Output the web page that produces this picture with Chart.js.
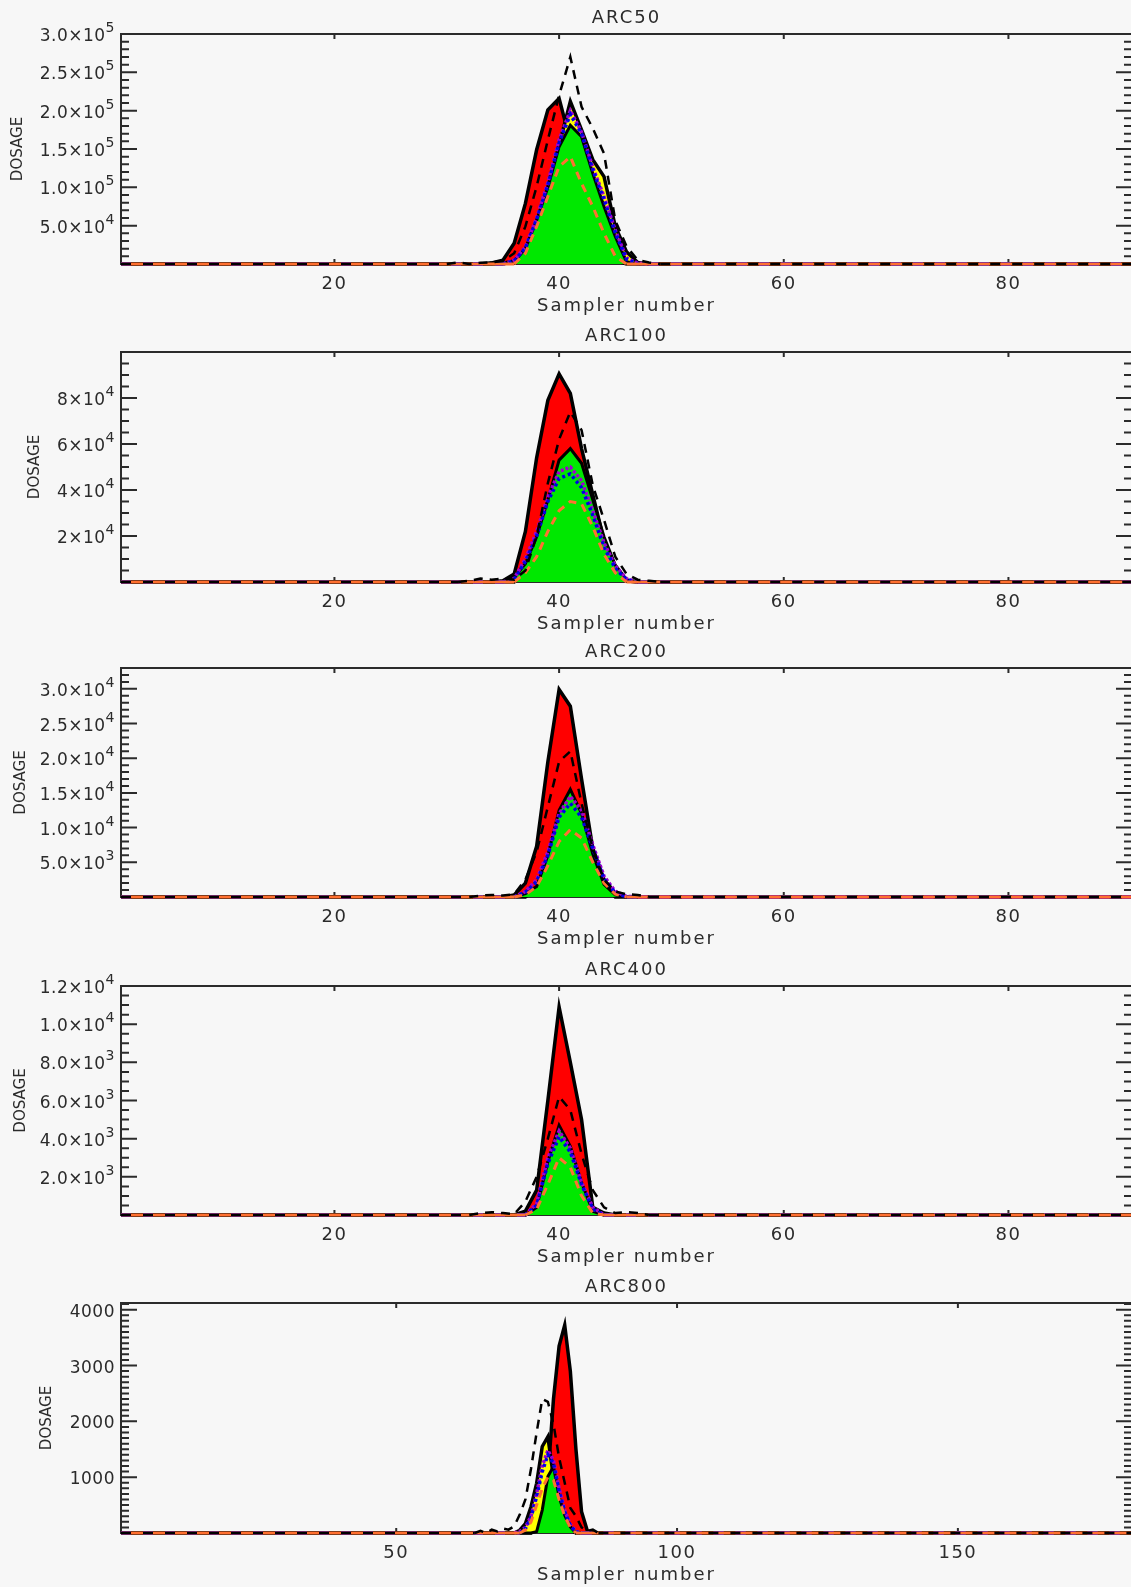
<!DOCTYPE html>
<html>
<head>
<meta charset="utf-8">
<title>ARC dosage by sampler</title>
<script src="https://cdn.jsdelivr.net/npm/chart.js@4.4.0/dist/chart.umd.min.js"></script>
<style>
  html, body { margin: 0; padding: 0; background: #f7f7f7; overflow: hidden; }
  #page { position: relative; width: 1131px; height: 1587px; overflow: hidden; }
  #page canvas { position: absolute; left: 0; }
</style>
</head>
<body>
<div id="page"></div>
<script>
// ---- datos (sampler number -> dosage) ----

// muestreadores para ARC50..ARC400 (misma malla)
var arcX = [1, 30, 31, 32, 33, 34, 35, 36, 37, 38, 39, 40, 41, 42, 43, 44, 45, 46, 47, 48, 49, 50, 91];

var arc50Red    = [0, 0, 0, 0, 0, 1500, 5000, 27000, 79000, 149000, 201000, 216000, 160000, 100000, 50000, 20000, 5000, 0, 0, 0, 0, 0, 0];
var arc50Yellow = [0, 0, 0, 0, 0, 0, 1000, 4000, 18000, 55000, 100000, 155000, 212000, 175000, 136000, 114000, 49000, 16000, 2000, 0, 0, 0, 0];
var arc50Green  = [0, 0, 0, 0, 0, 0, 0, 3000, 20000, 57000, 100000, 153000, 181000, 166000, 118000, 75000, 36000, 3000, 0, 0, 0, 0, 0];
var arc50Purple = [0, 0, 0, 0, 0, 0, 0, 5000, 22000, 60000, 106000, 162000, 200000, 172000, 126000, 88000, 44000, 8000, 1000, 0, 0, 0, 0];
var arc50Blue   = [0, 0, 0, 0, 0, 0, 0, 4000, 21000, 58000, 103000, 158000, 195000, 170000, 123000, 84000, 41000, 6000, 500, 0, 0, 0, 0];
var arc50Orange = [0, 0, 0, 0, 0, 0, 0, 0, 14000, 49000, 88000, 127000, 140000, 105000, 75000, 40000, 10000, 0, 0, 0, 0, 0, 0];
var arc50Black  = [0, 0, 2000, 0, 1500, 2000, 4000, 14000, 49000, 101000, 162000, 220000, 270000, 205000, 177000, 144000, 57000, 23000, 5000, 2000, 0, 0, 0];

var arc100Red    = [0, 0, 0, 0, 0, 0, 500, 3500, 22000, 54000, 79000, 90500, 82000, 58000, 38000, 18000, 5000, 500, 0, 0, 0, 0, 0];
var arc100Yellow = [0, 0, 0, 0, 0, 0, 0, 0, 6000, 17000, 32000, 49000, 55000, 48000, 33000, 17000, 6000, 500, 0, 0, 0, 0, 0];
var arc100Green  = [0, 0, 0, 0, 0, 0, 0, 2000, 8000, 19700, 35700, 53000, 58000, 51600, 35700, 19700, 7400, 1000, 0, 0, 0, 0, 0];
var arc100Purple = [0, 0, 0, 0, 0, 0, 0, 1500, 10000, 22000, 37000, 48000, 50000, 44000, 31000, 17000, 7000, 1500, 0, 0, 0, 0, 0];
var arc100Blue   = [0, 0, 0, 0, 0, 0, 0, 1000, 9000, 20000, 35000, 45000, 47000, 41000, 29000, 15000, 6000, 1000, 0, 0, 0, 0, 0];
var arc100Orange = [0, 0, 0, 0, 0, 0, 0, 0, 4000, 11000, 22000, 31000, 35000, 34000, 24000, 12000, 4000, 0, 0, 0, 0, 0, 0];
var arc100Black  = [0, 0, 0, 500, 1500, 1000, 1500, 1000, 5000, 20000, 43000, 62000, 74000, 66000, 42000, 27000, 11000, 3500, 1000, 500, 0, 0, 0];

var arc200Red    = [0, 0, 0, 0, 0, 0, 0, 300, 2000, 7300, 19500, 29900, 27500, 17000, 7000, 2500, 500, 0, 0, 0, 0, 0, 0];
var arc200Yellow = [0, 0, 0, 0, 0, 0, 0, 0, 0, 1300, 5500, 11500, 14500, 11000, 5500, 1500, 0, 0, 0, 0, 0, 0, 0];
var arc200Green  = [0, 0, 0, 0, 0, 0, 0, 0, 500, 1500, 6000, 12500, 15500, 12000, 6200, 1800, 300, 0, 0, 0, 0, 0, 0];
var arc200Purple = [0, 0, 0, 0, 0, 0, 0, 0, 800, 2500, 6500, 12000, 14500, 12500, 7500, 3000, 800, 100, 0, 0, 0, 0, 0];
var arc200Blue   = [0, 0, 0, 0, 0, 0, 0, 0, 700, 2200, 6000, 11500, 13500, 11500, 7000, 2600, 600, 0, 0, 0, 0, 0, 0];
var arc200Orange = [0, 0, 0, 0, 0, 0, 0, 0, 300, 1500, 4500, 8000, 9700, 8500, 5000, 2000, 400, 0, 0, 0, 0, 0, 0];
var arc200Black  = [0, 0, 0, 0, 200, 300, 200, 400, 2500, 6500, 13000, 19500, 21000, 13500, 7000, 2500, 800, 400, 300, 0, 0, 0, 0];

var arc400Red    = [0, 0, 0, 0, 0, 0, 0, 0, 200, 1300, 6000, 10900, 8000, 5000, 400, 100, 0, 0, 0, 0, 0, 0, 0];
var arc400Yellow = [0, 0, 0, 0, 0, 0, 0, 0, 0, 300, 2500, 4500, 3400, 1500, 200, 0, 0, 0, 0, 0, 0, 0, 0];
var arc400Green  = [0, 0, 0, 0, 0, 0, 0, 0, 0, 400, 2800, 4700, 3600, 1700, 200, 0, 0, 0, 0, 0, 0, 0, 0];
var arc400Purple = [0, 0, 0, 0, 0, 0, 0, 0, 0, 600, 3000, 4400, 3500, 1700, 400, 0, 0, 0, 0, 0, 0, 0, 0];
var arc400Blue   = [0, 0, 0, 0, 0, 0, 0, 0, 0, 500, 2700, 4100, 3300, 1600, 300, 0, 0, 0, 0, 0, 0, 0, 0];
var arc400Orange = [0, 0, 0, 0, 0, 0, 0, 0, 0, 300, 1600, 3000, 2500, 1000, 100, 0, 0, 0, 0, 0, 0, 0, 0];
var arc400Black  = [0, 0, 0, 0, 100, 150, 100, 50, 700, 2000, 4000, 6200, 5500, 3200, 1300, 400, 100, 150, 100, 0, 0, 0, 0];

// ARC800 usa otra malla (1..181)
var arc800X = [1, 64, 65, 66, 67, 68, 69, 70, 71, 72, 73, 74, 75, 76, 77, 78, 79, 80, 81, 82, 83, 84, 85, 86, 87, 88, 181];

var arc800Red    = [0, 0, 0, 0, 0, 0, 0, 0, 0, 0, 0, 0, 100, 400, 1000, 2400, 3350, 3725, 2900, 1500, 380, 50, 0, 0, 0, 0, 0];
var arc800Yellow = [0, 0, 0, 0, 0, 0, 0, 0, 0, 50, 170, 470, 890, 1550, 1725, 1000, 500, 200, 50, 0, 0, 0, 0, 0, 0, 0, 0];
var arc800Green  = [0, 0, 0, 0, 0, 0, 0, 0, 0, 0, 0, 0, 25, 410, 1010, 1190, 650, 320, 110, 0, 0, 0, 0, 0, 0, 0, 0];
var arc800Purple = [0, 0, 0, 0, 0, 0, 0, 0, 0, 30, 100, 300, 700, 1200, 1480, 1300, 800, 400, 150, 30, 0, 0, 0, 0, 0, 0, 0];
var arc800Blue   = [0, 0, 0, 0, 0, 0, 0, 0, 0, 0, 80, 280, 650, 1100, 1400, 1250, 750, 380, 130, 20, 0, 0, 0, 0, 0, 0, 0];
var arc800Orange = [0, 0, 0, 0, 0, 0, 0, 0, 0, 0, 50, 200, 500, 800, 1000, 950, 600, 300, 100, 0, 0, 0, 0, 0, 0, 0, 0];
var arc800Black  = [0, 0, 40, 0, 60, 30, 80, 60, 120, 330, 600, 1150, 1800, 2400, 2350, 1950, 1350, 900, 450, 300, 100, 40, 60, 0, 0, 0, 0];

// ticks
var arcXTicks = [20, 40, 60, 80];
var arc800XTicks = [50, 100, 150];

var arc50YTicks = [50000, 100000, 150000, 200000, 250000, 300000];
var arc50YLabels = ['5.0\u00d710^4', '1.0\u00d710^5', '1.5\u00d710^5', '2.0\u00d710^5', '2.5\u00d710^5', '3.0\u00d710^5'];
var arc100YTicks = [20000, 40000, 60000, 80000];
var arc100YLabels = ['2\u00d710^4', '4\u00d710^4', '6\u00d710^4', '8\u00d710^4'];
var arc200YTicks = [5000, 10000, 15000, 20000, 25000, 30000];
var arc200YLabels = ['5.0\u00d710^3', '1.0\u00d710^4', '1.5\u00d710^4', '2.0\u00d710^4', '2.5\u00d710^4', '3.0\u00d710^4'];
var arc400YTicks = [2000, 4000, 6000, 8000, 10000, 12000];
var arc400YLabels = ['2.0\u00d710^3', '4.0\u00d710^3', '6.0\u00d710^3', '8.0\u00d710^3', '1.0\u00d710^4', '1.2\u00d710^4'];
var arc800YTicks = [1000, 2000, 3000, 4000];
var arc800YLabels = ['1000', '2000', '3000', '4000'];

// ---- layout de cada panel (pixeles de la pagina) ----
var INK = '#2b2b2b';
var FONT = '"DejaVu Sans", sans-serif';

var panels = [
    { title: 'ARC50',  top: 34,   bottom: 264,  xMax: 91,  yMax: 300000, yMinor: 10000, ytitleX: 18,
      x: arcX, xTicks: arcXTicks, yTicks: arc50YTicks, yLabels: arc50YLabels,
      s: [arc50Red, arc50Yellow, arc50Green, arc50Purple, arc50Blue, arc50Orange, arc50Black] },
    { title: 'ARC100', top: 352,  bottom: 582,  xMax: 91,  yMax: 100000, yMinor: 5000, ytitleX: 35.5,
      x: arcX, xTicks: arcXTicks, yTicks: arc100YTicks, yLabels: arc100YLabels,
      s: [arc100Red, arc100Yellow, arc100Green, arc100Purple, arc100Blue, arc100Orange, arc100Black] },
    { title: 'ARC200', top: 668,  bottom: 897,  xMax: 91,  yMax: 33000, yMinor: 1000, ytitleX: 21,
      x: arcX, xTicks: arcXTicks, yTicks: arc200YTicks, yLabels: arc200YLabels,
      s: [arc200Red, arc200Yellow, arc200Green, arc200Purple, arc200Blue, arc200Orange, arc200Black] },
    { title: 'ARC400', top: 986,  bottom: 1215, xMax: 91,  yMax: 12000, yMinor: 500, ytitleX: 21,
      x: arcX, xTicks: arcXTicks, yTicks: arc400YTicks, yLabels: arc400YLabels,
      s: [arc400Red, arc400Yellow, arc400Green, arc400Purple, arc400Blue, arc400Orange, arc400Black] },
    { title: 'ARC800', top: 1303, bottom: 1533, xMax: 181, yMax: 4120, yMinor: 100, ytitleX: 47,
      x: arc800X, xTicks: arc800XTicks, yTicks: arc800YTicks, yLabels: arc800YLabels,
      s: [arc800Red, arc800Yellow, arc800Green, arc800Purple, arc800Blue, arc800Orange, arc800Black] }
];

var PAD_TOP = 34, PAD_BOTTOM = 56, LEFT = 121, CANVAS_W = 1133;

// estilos de cada serie, en orden de dibujo (de abajo hacia arriba)
function flat(c) { return c.p0.parsed.y === 0 && c.p1.parsed.y === 0; }

var styles = [
    { fill: 'origin', backgroundColor: '#ff0000', borderColor: '#000', borderWidth: 3.5 },
    { fill: 'origin', backgroundColor: '#ffff00', borderColor: '#000', borderWidth: 3.5 },
    { fill: 'origin', backgroundColor: '#00e800', borderColor: '#000', borderWidth: 3 },
    { fill: false, borderColor: '#a000d0', borderWidth: 3.5,
      segment: { borderDash: function (c) { return flat(c) ? [10, 12] : [3, 2]; } } },
    { fill: false, borderColor: '#0000e6', borderWidth: 3.5,
      segment: { borderDash: function (c) { return flat(c) ? [10, 12] : [3, 3]; } } },
    { fill: false, borderColor: '#ff7030', borderWidth: 3,
      segment: { borderDash: function (c) { return flat(c) ? [] : [8, 6]; } } },
    { fill: false, borderColor: '#000', borderWidth: 2.5,
      segment: { borderDash: function (c) { return flat(c) ? [10, 12] : [9, 7]; } } }
];

function makeFrame(p) {
    return {
        id: 'idlFrame',
        beforeDatasetsDraw: function (chart) {
            var ctx = chart.ctx, a = chart.chartArea;
            var xs = chart.scales.x, ys = chart.scales.y;
            ctx.save();
            ctx.strokeStyle = INK;
            ctx.lineWidth = 2;
            ctx.strokeRect(a.left, a.top, a.right - a.left, a.bottom - a.top);

            // ticks hacia adentro, estilo IDL
            ctx.beginPath();
            var n = Math.round(ys.max / p.yMinor);
            for (var i = 1; i <= n; i++) {
                var v = i * p.yMinor;
                if (v >= ys.max) break;
                var y = ys.getPixelForValue(v);
                var len = p.yTicks.indexOf(v) >= 0 ? 16 : 8;
                ctx.moveTo(a.left, y); ctx.lineTo(a.left + len, y);
                ctx.moveTo(a.right, y); ctx.lineTo(a.right - len, y);
            }
            p.xTicks.forEach(function (v) {
                var x = xs.getPixelForValue(v);
                ctx.moveTo(x, a.bottom); ctx.lineTo(x, a.bottom - 5);
                ctx.moveTo(x, a.top); ctx.lineTo(x, a.top + 5);
            });
            ctx.stroke();

            ctx.fillStyle = INK;
            var cx = (a.left + a.right) / 2;
            ctx.textAlign = 'center';
            ctx.textBaseline = 'middle';
            ctx.font = '18px ' + FONT;
            ctx.letterSpacing = '2px';
            ctx.fillText(p.title, cx, a.top - 16);
            ctx.fillText('Sampler number', cx, a.bottom + 42);

            ctx.letterSpacing = '1.5px';
            p.xTicks.forEach(function (v) {
                ctx.fillText(String(v), xs.getPixelForValue(v), a.bottom + 20.5);
            });

            // etiquetas del eje y con exponente
            ctx.letterSpacing = '0.5px';
            ctx.textAlign = 'right';
            ctx.textBaseline = 'alphabetic';
            p.yTicks.forEach(function (v, i) {
                var parts = p.yLabels[i].split('^');
                var y = ys.getPixelForValue(v);
                var right = a.left - 6;
                if (parts[1]) {
                    ctx.font = '14px ' + FONT;
                    ctx.fillText(parts[1], right, y - 2);
                    right -= ctx.measureText(parts[1]).width;
                }
                ctx.font = '17px ' + FONT;
                ctx.fillText(parts[0], right, y + 7);
            });

            ctx.save();
            ctx.translate(p.ytitleX, (a.top + a.bottom) / 2);
            ctx.rotate(-Math.PI / 2);
            ctx.letterSpacing = '0px';
            ctx.textAlign = 'center';
            ctx.textBaseline = 'middle';
            ctx.font = '15px ' + FONT;
            ctx.fillText('DOSAGE', 0, 0);
            ctx.restore();

            ctx.restore();
        }
    };
}

function build(p) {
    var canvas = document.createElement('canvas');
    var h = (p.bottom - p.top) + PAD_TOP + PAD_BOTTOM;
    canvas.width = CANVAS_W;
    canvas.height = h;
    canvas.style.width = CANVAS_W + 'px';
    canvas.style.height = h + 'px';
    canvas.style.top = (p.top - PAD_TOP) + 'px';
    document.getElementById('page').appendChild(canvas);

    var datasets = p.s.map(function (vals, k) {
        var ds = {
            data: p.x.map(function (x, i) { return { x: x, y: vals[i] }; }),
            pointRadius: 0,
            tension: 0,
            clip: false,
            order: 20 - k
        };
        return Object.assign(ds, styles[k]);
    });

    new Chart(canvas, {
        type: 'line',
        data: { datasets: datasets },
        options: {
            responsive: false,
            animation: false,
            devicePixelRatio: 1,
            layout: { padding: { left: LEFT, right: CANVAS_W - 1132, top: PAD_TOP, bottom: PAD_BOTTOM } },
            scales: {
                x: { type: 'linear', min: 1, max: p.xMax, display: false },
                y: { type: 'linear', min: 0, max: p.yMax, display: false }
            },
            plugins: { legend: { display: false }, tooltip: { enabled: false } },
            events: []
        },
        plugins: [makeFrame(p)]
    });
}

panels.forEach(build);
</script>
</body>
</html>
